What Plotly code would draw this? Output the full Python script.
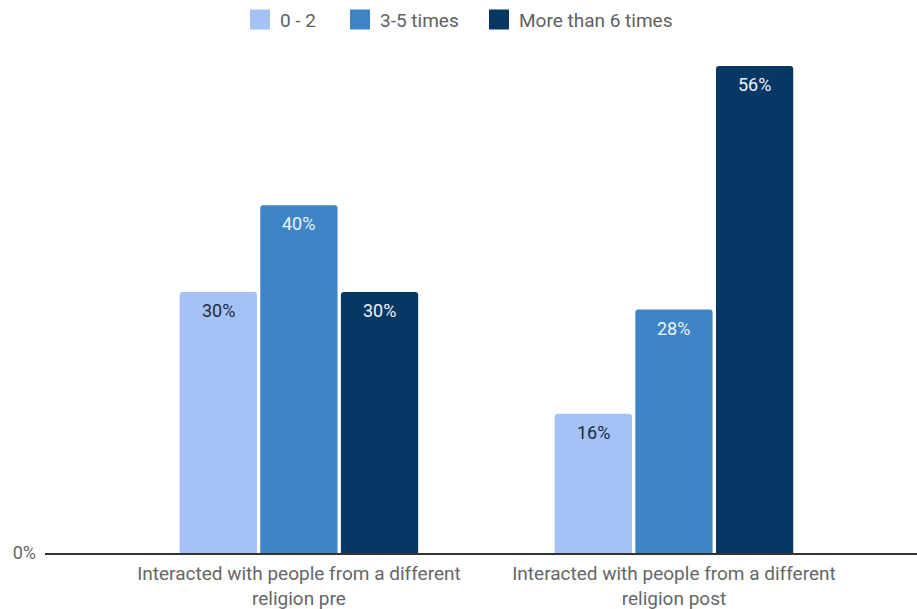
import plotly.graph_objects as go

categories = [
    "Interacted with people from a different<br>religion pre",
    "Interacted with people from a different<br>religion post",
]
series_names = ["0 - 2", "3-5 times", "More than 6 times"]
values = {
    "0 - 2": [30, 16],
    "3-5 times": [40, 28],
    "More than 6 times": [30, 56],
}
colors = {
    "0 - 2": "#a4c2f4",
    "3-5 times": "#3d85c6",
    "More than 6 times": "#073763",
}
label_colors = {
    "0 - 2": "#1c2a44",
    "3-5 times": "#eef3fb",
    "More than 6 times": "#eef3fb",
}
# one legend box per series, left edges in paper fraction
legend_ids = ["legend", "legend2", "legend3"]
legend_x = [0.2236, 0.3383, 0.4977]

FONT = "Roboto, sans-serif"
BAR_W = 0.206   # bar width in category units
SLOT = 0.215    # distance between neighbouring bar centres

fig = go.Figure()
annotations = []
for i, name in enumerate(series_names):
    vals = values[name]
    shift = (i - 1) * SLOT
    fig.add_trace(go.Bar(
        name=name,
        x=[0, 1],
        y=vals,
        width=BAR_W,
        offset=shift - BAR_W / 2,
        marker=dict(color=colors[name], line=dict(width=0)),
        hoverinfo="skip",
        showlegend=False,
    ))
    # value labels just inside the top of each bar
    for j, v in enumerate(vals):
        annotations.append(dict(
            x=j + shift, y=v, xref="x", yref="y",
            text=f"{v}%", showarrow=False,
            yanchor="top", yshift=-6,
            font=dict(family=FONT, size=18, color=label_colors[name]),
        ))

# Legend entries drawn as square swatches
for name, lid in zip(series_names, legend_ids):
    fig.add_trace(go.Scatter(
        name=name,
        x=[None],
        y=[None],
        mode="markers",
        marker=dict(symbol="square", size=16, color=colors[name],
                    line=dict(width=4, color=colors[name])),
        showlegend=True,
        legend=lid,
        hoverinfo="skip",
    ))

legend_style = dict(
    orientation="h",
    yanchor="middle",
    y=1.095,
    xanchor="left",
    font=dict(size=19, color="#5f5f5f"),
    itemsizing="trace",
    bgcolor="rgba(0,0,0,0)",
)

fig.update_layout(
    width=917,
    height=609,
    margin=dict(l=45, r=0, t=66, b=56),
    paper_bgcolor="white",
    plot_bgcolor="white",
    barmode="overlay",
    barcornerradius=3,
    font=dict(family=FONT, color="#555555"),
    annotations=annotations,
    legend=dict(x=legend_x[0], **legend_style),
    legend2=dict(x=legend_x[1], **legend_style),
    legend3=dict(x=legend_x[2], **legend_style),
    xaxis=dict(
        range=[-0.677, 1.648],
        tickvals=[0, 1],
        ticktext=categories,
        tickfont=dict(size=19, color="#666666"),
        showline=True,
        linecolor="#333333",
        linewidth=2,
        showgrid=False,
        zeroline=False,
        ticks="",
        ticklabelstandoff=2,
        automargin=False,
    ),
    yaxis=dict(
        range=[0, 56],
        tickvals=[0],
        ticktext=["0%"],
        tickfont=dict(size=18, color="#666666"),
        showgrid=False,
        zeroline=False,
        showline=False,
        ticklabelstandoff=8,
        automargin=False,
    ),
)

fig.write_html("out.html")
